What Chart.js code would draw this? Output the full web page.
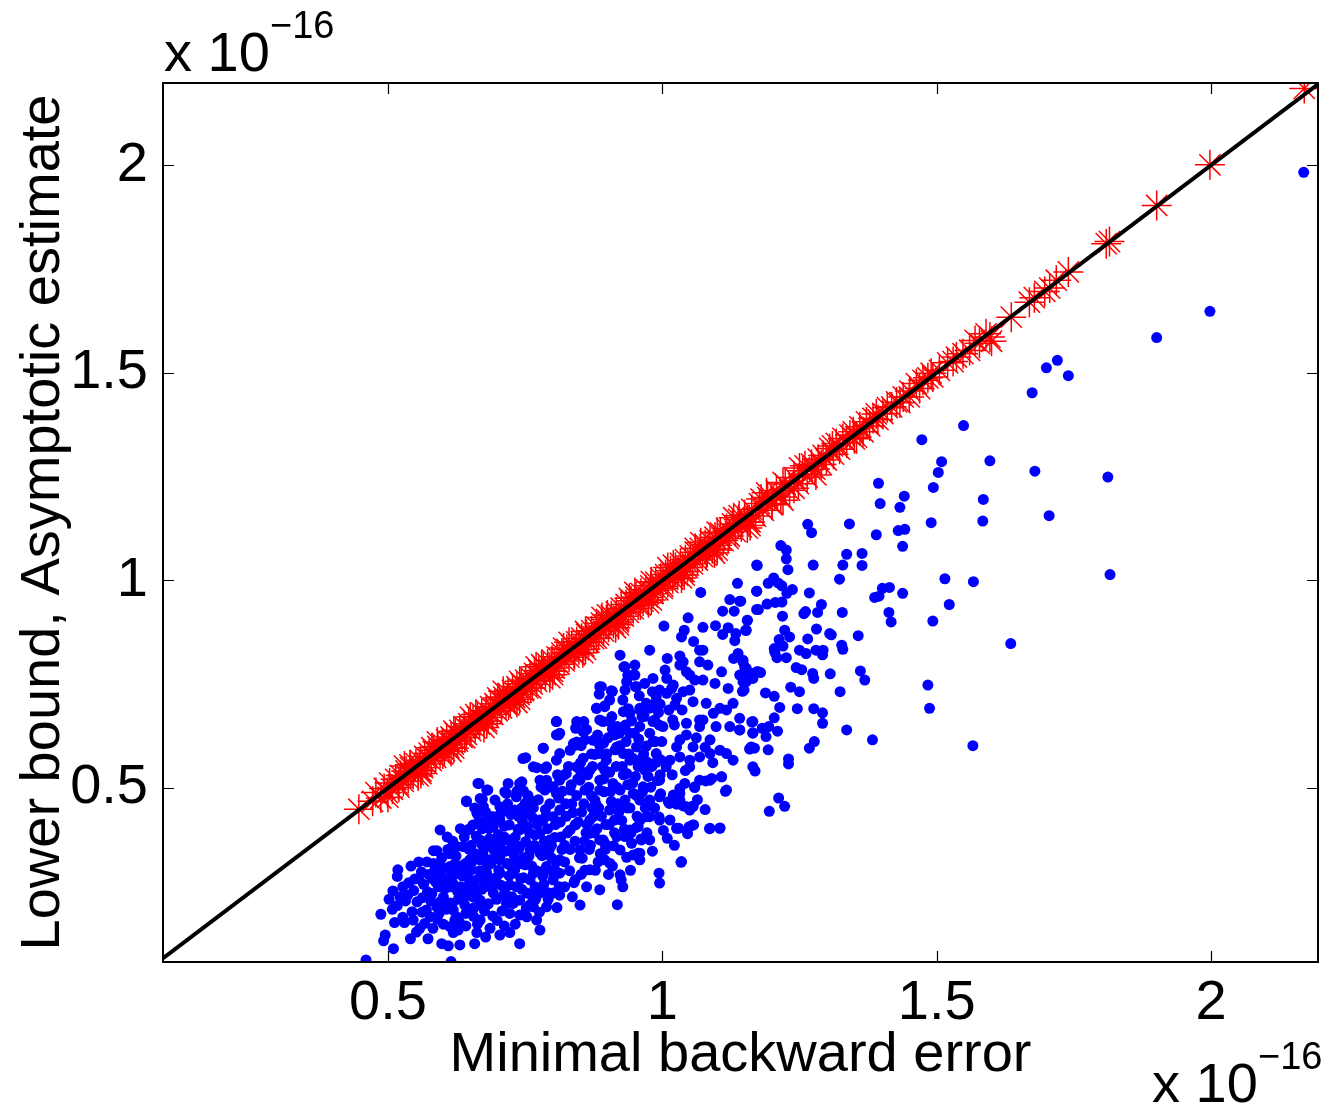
<!DOCTYPE html>
<html>
<head>
<meta charset="utf-8">
<script src="https://cdn.jsdelivr.net/npm/chart.js@4"></script>
<style>
  html, body { margin: 0; padding: 0; background: #fff; }
  #plot { display: block; }
</style>
</head>
<body>
<canvas id="plot" width="1325" height="1104"></canvas>
<script>
// values in units of 1e-16
const xTicks = [0.5, 1, 1.5, 2];
const yTicks = [0.5, 1, 1.5, 2];
const xRange = [0.09, 2.195];
const yRange = [0.081, 2.198];
const diagonal = [0, 2.3];

// red asterisks: asymptotic estimate vs minimal backward error
const estimatePts = [
  [0.447,0.449],[0.472,0.468],[0.478,0.489],[0.487,0.476],[0.493,0.499],[0.499,0.489],[0.503,0.512],[0.508,0.497],
  [0.514,0.521],[0.519,0.508],[0.523,0.530],[0.528,0.516],[0.533,0.541],[0.537,0.524],[0.541,0.549],[0.546,0.533],
  [0.551,0.559],[0.555,0.543],[0.559,0.566],[0.563,0.549],[0.567,0.576],[0.571,0.558],[0.575,0.584],[0.579,0.566],
  [0.583,0.591],[0.587,0.574],[0.591,0.600],[0.595,0.583],[0.599,0.607],[0.603,0.590],[0.607,0.616],[0.611,0.597],
  [0.615,0.623],[0.619,0.606],[0.623,0.632],[0.627,0.613],[0.631,0.639],[0.635,0.622],[0.639,0.648],[0.643,0.629],
  [0.647,0.655],[0.651,0.638],[0.655,0.664],[0.659,0.645],[0.663,0.671],[0.667,0.654],[0.671,0.680],[0.675,0.661],
  [0.679,0.687],[0.683,0.670],[0.687,0.696],[0.691,0.677],[0.695,0.703],[0.699,0.686],[0.703,0.712],[0.707,0.693],
  [0.711,0.719],[0.715,0.702],[0.719,0.728],[0.723,0.709],[0.727,0.735],[0.731,0.718],[0.735,0.744],[0.739,0.725],
  [0.743,0.751],[0.747,0.734],[0.751,0.760],[0.755,0.741],[0.759,0.767],[0.763,0.750],[0.767,0.776],[0.771,0.757],
  [0.775,0.783],[0.779,0.766],[0.783,0.792],[0.787,0.773],[0.791,0.799],[0.795,0.782],[0.799,0.808],[0.803,0.789],
  [0.808,0.816],[0.812,0.798],[0.817,0.825],[0.821,0.806],[0.826,0.834],[0.830,0.815],[0.835,0.843],[0.839,0.824],
  [0.844,0.852],[0.848,0.833],[0.853,0.861],[0.857,0.842],[0.862,0.870],[0.866,0.851],[0.871,0.879],[0.875,0.860],
  [0.880,0.888],[0.884,0.869],[0.889,0.897],[0.893,0.878],[0.898,0.906],[0.902,0.887],[0.907,0.915],[0.911,0.896],
  [0.916,0.924],[0.920,0.905],[0.925,0.933],[0.929,0.914],[0.934,0.942],[0.938,0.923],[0.943,0.951],[0.947,0.932],
  [0.952,0.960],[0.956,0.941],[0.961,0.969],[0.965,0.950],[0.970,0.978],[0.974,0.959],[0.979,0.987],[0.983,0.968],
  [0.988,0.996],[0.992,0.977],[0.997,1.005],[1.001,0.986],[1.006,1.014],[1.010,0.995],[1.015,1.023],[1.019,1.004],
  [1.024,1.032],[1.028,1.013],[1.033,1.041],[1.037,1.022],[1.042,1.050],[1.046,1.031],[1.051,1.059],[1.055,1.040],
  [1.060,1.068],[1.064,1.049],[1.069,1.077],[1.073,1.058],[1.078,1.086],[1.082,1.067],[1.087,1.095],[1.091,1.076],
  [1.096,1.104],[1.100,1.085],[1.106,1.114],[1.111,1.096],[1.117,1.125],[1.122,1.107],[1.128,1.136],[1.133,1.118],
  [1.139,1.147],[1.144,1.129],[1.150,1.158],[1.156,1.141],[1.163,1.171],[1.170,1.155],[1.177,1.185],[1.184,1.169],
  [1.192,1.200],[1.200,1.185],[1.208,1.216],[1.216,1.201],[1.224,1.232],[1.232,1.217],[1.240,1.248],[1.248,1.233],
  [1.256,1.264],[1.264,1.249],[1.272,1.280],[1.278,1.268],[1.284,1.292],[1.293,1.301],[1.299,1.290],[1.305,1.318],
  [1.312,1.304],[1.317,1.330],[1.323,1.316],[1.329,1.342],[1.336,1.331],[1.342,1.350],[1.348,1.358],[1.354,1.345],
  [1.360,1.370],[1.366,1.358],[1.372,1.382],[1.378,1.372],[1.384,1.390],[1.393,1.387],[1.402,1.402],[1.410,1.416],
  [1.418,1.418],[1.427,1.430],[1.433,1.428],[1.439,1.442],[1.451,1.456],[1.463,1.474],[1.469,1.462],[1.475,1.482],
  [1.484,1.488],[1.493,1.490],[1.505,1.506],[1.520,1.524],[1.536,1.538],[1.548,1.546],[1.560,1.554],[1.578,1.571],
  [1.590,1.594],[1.597,1.586],[1.600,1.576],[1.636,1.634],[1.669,1.670],[1.678,1.681],[1.697,1.696],[1.706,1.704],
  [1.718,1.723],[1.740,1.743],[1.809,1.811],[1.815,1.816],[1.901,1.903],[1.998,2.001],[2.170,2.185],
  [0.520,0.502],[0.540,0.556],[0.560,0.541],[0.580,0.597],[0.600,0.582],[0.620,0.637],[0.640,0.621],[0.660,0.677],
  [0.680,0.661],[0.700,0.717],[0.720,0.700],[0.740,0.757],[0.760,0.741],[0.780,0.797],[0.800,0.781],[0.820,0.837],
  [0.840,0.821],[0.860,0.877],[0.880,0.861],[0.900,0.917],[0.920,0.900],[0.940,0.957],[0.960,0.941],[0.980,0.997],
  [1.000,0.981],[1.020,1.037],[1.040,1.021],[1.060,1.077],[1.080,1.061],[1.100,1.116],[1.120,1.101],[1.140,1.156],
  [1.160,1.141],[1.180,1.196],[1.200,1.182],[1.220,1.236],[1.240,1.222],[1.260,1.276],[1.290,1.279],[1.310,1.324],
  [1.350,1.341],[1.390,1.401],[1.450,1.442],[1.490,1.499],[1.530,1.527],[1.570,1.578],
  [0.500,0.478],[0.530,0.553],[0.560,0.535],[0.590,0.611],[0.620,0.596],[0.650,0.671],[0.680,0.655],[0.710,0.733],
  [0.740,0.714],[0.770,0.792],[0.800,0.773],[0.830,0.851],[0.860,0.834],[0.890,0.911],[0.920,0.893],[0.950,0.971],
  [0.980,0.953],[1.010,1.031],[1.040,1.013],[1.070,1.091],[1.100,1.073],[1.130,1.151],[1.160,1.132],[1.190,1.211],
  [1.220,1.193],[1.250,1.271],[1.280,1.254],[0.615,0.588],[0.735,0.706],[0.855,0.826],[0.975,0.946],[1.095,1.066],
  [0.555,0.529],[0.675,0.646],[0.795,0.766],[0.915,0.886],[1.035,1.006],[1.155,1.126]
];

// blue dots: lower bound vs minimal backward error
const boundPts = [
  [2.169,1.983],[1.998,1.648],[1.901,1.585],[1.700,1.512],[1.720,1.530],[1.740,1.493],[1.674,1.452],[1.597,1.288],
  [1.679,1.263],[1.812,1.249],[1.705,1.156],[1.816,1.014],[1.635,0.848],
  [1.549,1.373],[1.473,1.339],[1.509,1.286],[1.503,1.260],[1.494,1.224],[1.585,1.195],[1.584,1.143],[1.490,1.139],
  [1.394,1.234],[1.441,1.203],[1.397,1.185],[1.433,1.176],[1.430,1.120],[1.442,1.123],[1.390,1.110],[1.438,1.082],
  [1.341,1.136],[1.265,1.135],[1.272,1.115],[1.336,1.063],[1.364,1.065],[1.364,1.036],[1.329,1.037],[1.323,1.003],
  [1.275,1.037],[1.216,1.084],[1.226,1.073],[1.226,1.052],[1.229,1.026],[1.173,1.036],[1.515,1.004],[1.567,0.997],
  [1.438,0.969],[1.387,0.959],[1.395,0.962],[1.401,0.981],[1.414,0.983],[1.523,0.942],[1.493,0.902],[1.413,0.923],
  [1.417,0.900],[1.328,0.923],[1.357,0.867],[1.361,0.782],[1.369,0.760],[1.484,0.748],[1.487,0.692],[1.566,0.602],
  [1.383,0.616],[1.336,0.640],[1.324,0.732],[1.306,0.775],[1.292,0.681],[1.292,0.656],[1.277,0.612],[1.268,0.596],
  [1.230,0.570],[1.230,0.558],[1.212,0.476],[1.223,0.456],[1.195,0.444],[1.165,0.551],[1.169,0.541],[1.159,0.594],
  [1.168,0.596],[1.193,0.592],[1.163,0.659],[1.165,0.633],[1.141,0.640],[1.182,0.644],[1.194,0.648],[1.189,0.624],
  [1.210,0.637],[1.204,0.669],[1.214,0.694],[1.204,0.721],[1.188,0.729],[1.146,0.733],[1.246,0.691],[1.276,0.691],
  [1.234,0.743],[1.250,0.732],[1.244,0.790],[1.254,0.785],[1.274,0.776],[1.276,0.764],[1.205,0.827],[1.226,0.814],
  [1.209,0.814],[1.250,0.832],[1.262,0.824],[1.280,0.832],[1.293,0.832],[1.292,0.821],[1.265,0.859],[1.281,0.883],
  [1.305,0.872],[1.308,0.869],[1.327,0.844],[1.329,0.834],[1.223,0.880],[1.232,0.864],[1.213,0.858],[1.204,0.836],
  [1.220,0.842],[1.258,0.920],[1.261,0.925],[1.283,0.923],[1.290,0.942],[1.268,0.970],[1.219,0.914],[1.191,0.943],
  [1.206,0.947],[1.218,0.948],[1.175,0.930],[1.172,0.974],[1.193,0.993],[1.203,1.006],[1.211,0.994],[1.218,0.987],
  [1.227,0.969],[1.237,0.978],[1.155,0.904],[1.152,0.880],[1.143,0.950],[1.147,0.808],[1.150,0.792],[1.172,0.780],
  [1.179,0.778],[1.156,0.772],[1.147,0.756],[1.149,0.736],
  [0.460,0.086],[0.615,0.082],[0.510,0.113],[0.492,0.132],[0.495,0.146],[0.487,0.196],[0.508,0.208],[0.517,0.217],
  [0.512,0.176],[0.527,0.189],[0.530,0.176],[0.518,0.303],[0.517,0.287],[0.541,0.137],[0.573,0.137],[0.598,0.125],
  [0.610,0.120],[0.631,0.122],[0.658,0.125],[0.678,0.141],[0.740,0.125],[0.536,0.242],[0.547,0.253],[0.553,0.226],
  [0.565,0.268],[0.572,0.250],[0.580,0.246],[0.552,0.153],[0.558,0.162],[0.567,0.174],[0.577,0.190],[0.590,0.184],
  [0.595,0.399],[0.570,0.206],[0.589,0.214],[0.595,0.226],[0.601,0.238],[0.613,0.223],[0.619,0.206],[0.628,0.158],
  [0.613,0.166],[0.630,0.178],[0.625,0.190],[0.595,0.295],[0.607,0.279],[0.613,0.311],[0.625,0.295],[0.637,0.303],
  [0.652,0.303],[0.662,0.279],[0.643,0.262],[0.655,0.238],[0.668,0.230],[0.674,0.214],[0.583,0.349],[0.589,0.349],
  [0.625,0.359],[0.637,0.359],[0.646,0.399],[0.655,0.411],[0.662,0.439],[0.674,0.455],[0.680,0.423],[0.643,0.467],
  [0.668,0.475],[0.664,0.511],[0.680,0.495],[0.692,0.431],[0.704,0.455],[0.716,0.447],[0.719,0.511],[0.716,0.487],
  [0.734,0.479],[0.740,0.511],[0.746,0.571],[0.750,0.463],[0.753,0.439],[0.765,0.551],[0.777,0.519],[0.783,0.596],
  [0.789,0.551],[0.801,0.503],[0.807,0.660],[0.807,0.628],[0.807,0.567],
  [0.680,0.359],[0.692,0.375],[0.704,0.335],[0.716,0.375],[0.728,0.343],[0.740,0.359],[0.753,0.327],[0.765,0.295],
  [0.777,0.343],[0.789,0.311],[0.801,0.279],[0.777,0.247],[0.753,0.247],[0.728,0.295],[0.704,0.295],[0.692,0.247],
  [0.716,0.222],[0.740,0.230],[0.765,0.214],[0.789,0.214],[0.801,0.247],[0.813,0.295],[0.668,0.327],[0.680,0.295],
  [0.722,0.198],[0.753,0.190],[0.771,0.182],
  [0.704,0.423],[0.722,0.375],[0.740,0.399],[0.759,0.351],[0.777,0.423],[0.795,0.375],[0.813,0.447],[0.832,0.399],
  [0.850,0.351],[0.868,0.423],[0.886,0.375],[0.904,0.447],[0.704,0.327],[0.731,0.303],[0.759,0.279],[0.786,0.303],
  [0.813,0.327],[0.841,0.279],[0.868,0.303],[0.895,0.327],[0.923,0.351],[0.668,0.375],[0.649,0.327],[0.686,0.279],
  [0.713,0.255],[0.668,0.182],[0.640,0.218],[0.740,0.194],[0.704,0.146],[0.777,0.158],[0.813,0.242],[0.850,0.218],
  [0.886,0.255],[0.923,0.291],[0.959,0.327],[0.941,0.399],[0.977,0.375],[0.995,0.423],[0.959,0.471],[0.923,0.495],
  [0.886,0.519],[0.850,0.543],[0.813,0.519],[0.786,0.495],[0.759,0.471],[0.731,0.447],[0.695,0.471],[0.832,0.591],
  [0.859,0.616],[0.886,0.664],[0.913,0.628],[0.941,0.567],[0.968,0.543],[0.995,0.519],[1.014,0.567],[1.032,0.616],
  [1.050,0.567],[1.068,0.519],[1.032,0.471],[1.014,0.423],[1.050,0.447],[0.904,0.712],[0.932,0.736],[0.959,0.688],
  [0.986,0.664],[0.995,0.736],[1.023,0.700],[1.050,0.736],[1.068,0.664],[1.087,0.616],[0.977,0.832],[1.005,0.784],
  [1.032,0.796],[1.068,0.832],[0.950,0.796],[0.923,0.820],
  [0.750,0.315],[0.786,0.351],[0.768,0.387],[0.804,0.303],[0.722,0.267],[0.686,0.327],[0.649,0.279],[0.631,0.242],
  [0.622,0.182],[0.613,0.303],[0.841,0.411],[0.877,0.471],[0.913,0.423],[0.859,0.495],[0.895,0.543],[0.932,0.471],
  [0.977,0.471],[0.832,0.495],
  [1.172,1.037],[1.137,0.993],[1.070,0.971],[1.123,0.954],[1.141,0.950],[1.110,0.926],[1.131,0.926],[1.172,0.974],
  [1.172,0.930],[1.155,0.904],[1.047,0.910],[1.003,0.890],[1.040,0.880],[1.035,0.864],[1.057,0.853],[1.074,0.887],
  [1.097,0.891],[1.110,0.870],[1.120,0.886],[1.134,0.872],[1.153,0.880],[1.074,0.832],[1.132,0.855],[1.009,0.812],
  [1.032,0.818],[1.038,0.804],[1.068,0.804],[1.083,0.796],[1.108,0.780],[1.130,0.812],[1.138,0.824],[1.147,0.804],
  [1.153,0.788],[1.141,0.772],[1.164,0.776],[1.175,0.780],[0.932,0.792],[0.937,0.772],[0.950,0.772],[0.953,0.744],
  [0.983,0.764],[1.008,0.764],[1.020,0.748],[1.044,0.780],[1.050,0.772],[1.059,0.760],[1.074,0.760],[1.096,0.752],
  [1.120,0.740],[1.147,0.768],[1.153,0.756],[1.165,0.764],
  [0.889,0.744],[0.885,0.726],[0.907,0.734],[0.895,0.698],[0.880,0.692],[0.929,0.684],[0.941,0.680],[0.959,0.692],
  [0.971,0.704],[0.983,0.700],[0.989,0.720],[1.008,0.728],[1.017,0.740],[1.026,0.716],[1.038,0.732],[1.056,0.708],
  [1.080,0.704],[1.093,0.680],[1.105,0.692],[1.117,0.688],[1.129,0.704],[1.141,0.668],[1.165,0.660],
  [0.807,0.660],[0.813,0.632],[0.844,0.660],[0.856,0.636],[0.892,0.660],[0.904,0.660],[0.922,0.632],[0.941,0.632],
  [0.959,0.648],[0.983,0.660],[1.001,0.648],[1.019,0.664],[1.044,0.656],[1.068,0.648],[1.074,0.664],[1.098,0.648],
  [1.123,0.648],[1.141,0.640],[1.165,0.632],[1.162,0.599],
  [0.783,0.596],[0.786,0.547],[0.813,0.583],[0.838,0.607],[0.844,0.551],[0.874,0.615],[0.886,0.583],[0.898,0.567],
  [0.917,0.599],[0.929,0.583],[0.953,0.599],[0.965,0.575],[0.977,0.551],[0.989,0.583],[1.007,0.551],[1.026,0.599],
  [1.032,0.575],[1.050,0.551],[1.056,0.599],[1.068,0.575],[1.087,0.583],[1.105,0.591],[1.117,0.583],[1.129,0.567],
  [1.087,0.519],[1.108,0.527],[1.059,0.503],[1.117,0.495],
  [0.789,0.519],[0.807,0.487],[0.825,0.535],[0.850,0.519],[0.868,0.543],[0.886,0.495],[0.910,0.511],[0.935,0.535],
  [0.947,0.487],[0.965,0.503],[0.977,0.463],[0.995,0.479],[1.013,0.463],[1.032,0.487],[1.044,0.455],[1.056,0.455],
  [0.977,0.431],[1.026,0.403],[1.056,0.411],[1.087,0.403],[1.105,0.403],[0.956,0.407],[0.962,0.375],[0.956,0.343],
  [1.035,0.323],[0.904,0.319],[0.868,0.391],[0.892,0.375],
  [1.115,0.492],[1.108,0.527],[1.090,0.523],[1.079,0.517],[1.059,0.501],[1.056,0.457],[1.038,0.457],[1.026,0.461],
  [1.011,0.467],[1.020,0.483],[1.032,0.499],[1.041,0.511],[0.997,0.486],[1.105,0.404],[1.086,0.402],[1.057,0.411],
  [1.049,0.407],[1.046,0.390],[1.030,0.403],[1.009,0.379],[1.034,0.321],[0.994,0.295],[0.995,0.271],[0.994,0.430],
  [0.953,0.405],[0.961,0.377],[0.971,0.431],[0.959,0.343],[0.947,0.339],[0.935,0.333],[0.909,0.312],[0.902,0.292],
  [0.925,0.279],[0.918,0.219],[0.895,0.367],[0.917,0.383],[0.932,0.383],[0.944,0.367],
  [0.930,0.792],[0.947,0.772],[0.935,0.756],[0.951,0.744],[0.886,0.744],[0.909,0.733],[0.880,0.692],[0.895,0.696],
  [0.811,0.628],[0.857,0.660],[0.842,0.644],[0.857,0.636],[0.841,0.603],[0.844,0.611],[0.751,0.573],[0.771,0.549],
  [0.788,0.549],[0.666,0.511],[0.682,0.495],[0.643,0.469],[0.672,0.473],[0.671,0.451],[0.713,0.491],[0.744,0.515],
  [0.747,0.493],
  [0.632,0.262],[0.641,0.318],[0.648,0.352],[0.656,0.268],[0.661,0.384],[0.667,0.301],[0.673,0.342],[0.677,0.262],
  [0.684,0.402],[0.688,0.318],[0.693,0.351],[0.697,0.284],[0.701,0.388],[0.706,0.266],[0.709,0.351],[0.712,0.408],
  [0.717,0.318],[0.721,0.289],[0.724,0.436],[0.727,0.362],[0.731,0.332],[0.734,0.262],[0.737,0.401],[0.741,0.318],
  [0.744,0.452],[0.747,0.284],[0.751,0.371],[0.754,0.407],[0.757,0.336],[0.761,0.242],[0.764,0.428],[0.767,0.362],
  [0.771,0.301],[0.774,0.472],[0.777,0.391],[0.781,0.337],[0.784,0.268],[0.787,0.448],[0.791,0.402],[0.794,0.352],
  [0.797,0.502],[0.801,0.431],[0.804,0.381],[0.807,0.322],[0.811,0.476],[0.814,0.418],[0.817,0.352],[0.821,0.531],
  [0.824,0.462],[0.827,0.392],[0.831,0.301],[0.834,0.508],[0.837,0.441],[0.841,0.372],[0.844,0.482],[0.847,0.418],
  [0.851,0.561],[0.854,0.331],[0.857,0.462],[0.861,0.392],[0.864,0.532],[0.867,0.352],[0.871,0.481],[0.874,0.431],
  [0.877,0.581],[0.881,0.402],[0.884,0.452],[0.887,0.342],[0.891,0.552],[0.894,0.491],[0.897,0.412],[0.901,0.621],
  [0.904,0.538],[0.907,0.468],[0.911,0.361],[0.914,0.592],[0.917,0.502],[0.921,0.442],[0.924,0.641],[0.927,0.552],
  [0.931,0.401],[0.934,0.612],[0.937,0.508],[0.941,0.452],[0.944,0.662],[0.947,0.571],[0.951,0.528],[0.954,0.432],
  [0.957,0.618],[0.961,0.561],[0.964,0.491],[0.967,0.672],[0.971,0.601],[0.974,0.528],[0.977,0.632],[0.981,0.552],
  [0.984,0.701],[0.987,0.612],[0.991,0.518],[0.994,0.652],[0.997,0.568],
  [0.561,0.298],[0.571,0.322],[0.581,0.281],[0.585,0.301],[0.592,0.262],[0.598,0.332],[0.604,0.258],[0.612,0.342],
  [0.618,0.271],[0.622,0.318],[0.628,0.232],[0.636,0.288],[0.642,0.198],[0.651,0.241],[0.657,0.212],[0.663,0.172],
  [0.671,0.256],[0.683,0.221],[0.691,0.192],[0.698,0.232],[0.708,0.204],[0.726,0.238],[0.732,0.172],[0.744,0.256],
  [0.758,0.218],[0.768,0.262],[0.776,0.201],[0.792,0.248],[0.808,0.212],[0.822,0.262],[0.836,0.238],[0.852,0.292],
  [0.862,0.262],[0.878,0.302],
  [0.852,0.602],[0.862,0.641],[0.871,0.582],[0.882,0.628],[0.893,0.608],[0.908,0.672],[0.918,0.648],[0.928,0.712],
  [0.938,0.691],[0.958,0.722],[0.968,0.752],[0.982,0.732],[0.996,0.702],[1.012,0.688],[1.022,0.652],[1.036,0.688],
  [1.044,0.628],[1.062,0.621],[1.078,0.598],[1.092,0.561],[1.018,0.532],[1.042,0.542],[1.064,0.472],[1.078,0.448],
  [1.002,0.398],[1.022,0.362],[0.982,0.348],[0.972,0.392],[0.942,0.302],[0.928,0.262],[0.872,0.452],[0.858,0.372],
  [0.822,0.362],[0.798,0.332],[0.782,0.422],[0.762,0.452],[0.738,0.432],[0.712,0.382],[0.702,0.362],[0.688,0.431],
  [0.672,0.402],[0.658,0.452],[0.652,0.362],[0.632,0.402],[0.618,0.372],[0.608,0.382],
  [0.556,0.281],[0.563,0.236],[0.574,0.292],[0.578,0.228],[0.583,0.318],[0.588,0.272],[0.593,0.198],[0.597,0.311],
  [0.602,0.282],[0.606,0.208],[0.609,0.352],[0.614,0.262],[0.617,0.222],[0.621,0.292],[0.624,0.336],[0.627,0.251],
  [0.633,0.312],[0.637,0.232],[0.639,0.382],[0.644,0.292],[0.647,0.248],[0.649,0.402],[0.653,0.322],[0.656,0.191],
  [0.659,0.342],[0.663,0.252],[0.666,0.421],[0.669,0.282],[0.672,0.362],[0.676,0.204],[0.678,0.442],[0.681,0.312],
  [0.685,0.378],[0.689,0.262],[0.692,0.408],[0.696,0.331],[0.699,0.181],[0.702,0.302],[0.705,0.438],[0.708,0.382],
  [0.711,0.242],[0.714,0.348],[0.718,0.462],[0.721,0.411],[0.725,0.311],[0.728,0.222],[0.732,0.382],[0.735,0.492],
  [0.738,0.352],[0.742,0.282],[0.745,0.421],[0.748,0.332],[0.752,0.211],[0.755,0.482],[0.758,0.392],[0.762,0.312],
  [0.765,0.452],[0.769,0.232],[0.772,0.412],[0.775,0.352],[0.779,0.502],[0.782,0.288],[0.785,0.372],[0.788,0.432],
  [0.792,0.232],[0.795,0.462],[0.798,0.362],[0.802,0.292],[0.805,0.412],[0.809,0.532],[0.812,0.262],[0.815,0.382],
  [0.818,0.492],[0.822,0.322],[0.825,0.432],[0.829,0.552],[0.832,0.352],[0.835,0.462],[0.839,0.272],[0.842,0.412],
  [0.846,0.522],[0.849,0.332],[0.853,0.442],[0.856,0.572],[0.859,0.302],[0.863,0.412],[0.866,0.502],[0.869,0.362],
  [0.873,0.552],[0.876,0.392],[0.879,0.462],[0.883,0.322],[0.886,0.602],[0.889,0.432],[0.893,0.522],[0.896,0.352],
  [0.899,0.582],[0.903,0.412],[0.906,0.492],[0.909,0.642],[0.913,0.392],[0.916,0.552],[0.919,0.462],[0.923,0.602],
  [0.926,0.422],[0.929,0.532],[0.933,0.652],[0.936,0.452],[0.939,0.582],[0.943,0.392],[0.946,0.512],[0.949,0.632],
  [0.953,0.482],[0.956,0.552],[0.959,0.422],[0.963,0.672],[0.966,0.582],[0.969,0.452],[0.973,0.562],[0.976,0.692],
  [0.979,0.502],[0.983,0.612],[0.986,0.452],[0.989,0.562],[0.993,0.682],[0.996,0.532],[0.999,0.612],
  [0.532,0.228],[0.538,0.272],[0.544,0.202],[0.549,0.281],[0.522,0.238],[0.527,0.262],[0.502,0.232],[0.509,0.252],
  [0.542,0.312],[0.556,0.322],[0.546,0.182],[0.562,0.201],[0.582,0.162],[0.601,0.172],[0.619,0.152],[0.642,0.168],
  [0.662,0.152],[0.686,0.162],[0.712,0.168],[0.722,0.152]
];

const FONT = '"Liberation Sans", Arial, Helvetica, sans-serif';
const FS = 56;
const toXY = pts => pts.map(p => ({ x: p[0], y: p[1] }));

// frame, inward ticks and the exponent labels
const frame = {
  id: 'frame',
  afterDatasetsDraw(chart) {
    const { ctx, chartArea: a, scales: { x, y } } = chart;
    ctx.save();
    ctx.strokeStyle = '#000';
    ctx.lineWidth = 1.2;
    ctx.beginPath();
    xTicks.forEach(v => {
      const px = Math.round(x.getPixelForValue(v)) + 0.5;
      ctx.moveTo(px, a.bottom); ctx.lineTo(px, a.bottom - 11);
      ctx.moveTo(px, a.top); ctx.lineTo(px, a.top + 11);
    });
    yTicks.forEach(v => {
      const py = Math.round(y.getPixelForValue(v)) + 0.5;
      ctx.moveTo(a.left, py); ctx.lineTo(a.left + 11, py);
      ctx.moveTo(a.right, py); ctx.lineTo(a.right - 11, py);
    });
    ctx.stroke();
    ctx.lineWidth = 2;
    ctx.strokeRect(a.left, a.top, a.right - a.left, a.bottom - a.top);

    ctx.fillStyle = '#000';
    ctx.textBaseline = 'alphabetic';
    ctx.textAlign = 'left';
    ctx.font = FS + 'px ' + FONT;
    ctx.fillText('x 10', a.left + 1, 71);
    ctx.fillText('x 10', 1152, 1102);
    ctx.font = '38px ' + FONT;
    ctx.fillText('\u221216', 270, 38);
    ctx.fillText('\u221216', 1258, 1069);
    ctx.restore();
  }
};

new Chart(document.getElementById('plot'), {
  type: 'scatter',
  data: {
    datasets: [
      {
        type: 'line',
        data: diagonal.map(v => ({ x: v, y: v })),
        borderColor: '#000',
        borderWidth: 4,
        pointRadius: 0,
        clip: 0
      },
      {
        data: toXY(estimatePts),
        pointStyle: 'star',
        pointRadius: 15,
        borderColor: '#ff0000',
        borderWidth: 1.5,
        backgroundColor: 'rgba(0,0,0,0)'
      },
      {
        data: toXY(boundPts),
        pointStyle: 'circle',
        pointRadius: 5.5,
        borderWidth: 0,
        backgroundColor: '#0000ff'
      }
    ]
  },
  options: {
    responsive: false,
    animation: false,
    devicePixelRatio: 1,
    layout: { autoPadding: false, padding: { top: 83, right: 7, left: 0, bottom: 0 } },
    plugins: { legend: { display: false }, tooltip: { enabled: false } },
    scales: {
      x: {
        type: 'linear',
        min: xRange[0],
        max: xRange[1],
        afterBuildTicks: s => { s.ticks = xTicks.map(v => ({ value: v })); },
        afterFit: s => { s.height = 142; },
        grid: { display: false, drawTicks: false },
        border: { display: false },
        ticks: {
          color: '#000',
          padding: 8,
          maxRotation: 0,
          font: { family: FONT, size: FS },
          callback: v => String(v)
        },
        title: {
          display: true,
          text: 'Minimal backward error',
          color: '#000',
          font: { family: FONT, size: FS },
          padding: { top: 0, bottom: 15 }
        }
      },
      y: {
        type: 'linear',
        min: yRange[0],
        max: yRange[1],
        afterBuildTicks: s => { s.ticks = yTicks.map(v => ({ value: v })); },
        afterFit: s => { s.width = 163; },
        grid: { display: false, drawTicks: false },
        border: { display: false },
        ticks: {
          color: '#000',
          padding: 15,
          font: { family: FONT, size: FS },
          callback: v => String(v)
        },
        title: {
          display: true,
          text: 'Lower bound, Asymptotic estimate',
          color: '#000',
          font: { family: FONT, size: FS },
          padding: { top: 10, bottom: 0 }
        }
      }
    }
  },
  plugins: [frame]
});
</script>
</body>
</html>
